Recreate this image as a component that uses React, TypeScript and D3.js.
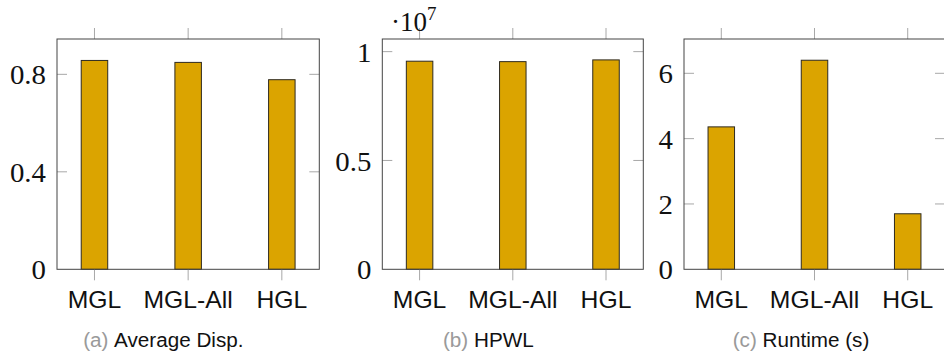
import { useEffect, useRef } from "react";
import * as d3 from "d3";

const categories = ["MGL", "MGL-All", "HGL"];
const dispValues = [0.857, 0.849, 0.778];
const hpwlValues = [9.56e6, 9.54e6, 9.62e6];
const runtimeValues = [4.36, 6.4, 1.7];

const dispTicks = [0, 0.4, 0.8];
const hpwlTicks = [0, 0.5, 1];
const runtimeTicks = [0, 2, 4, 6];

const captionTags = ["(a)", "(b)", "(c)"];
const captionTexts = ["Average Disp.", "HPWL", "Runtime (s)"];

export default function App() {
  const ref = useRef<SVGSVGElement | null>(null);

  useEffect(() => {
    const svg = d3.select(ref.current);
    svg.selectAll("*").remove();

    const top = 39,
      bottom = 269.3;
    const panels = [
      { left: 57, right: 319.3, yMax: 0.945, values: dispValues, ticks: dispTicks, scale: 1, caption: 163.3 },
      { left: 382.3, right: 643.3, yMax: 1.058, values: hpwlValues, ticks: hpwlTicks, scale: 1e7, caption: 488.3 },
      { left: 684, right: 945, yMax: 7.05, values: runtimeValues, ticks: runtimeTicks, scale: 1, caption: 801 },
    ];

    panels.forEach((p, pi) => {
      const g = svg.append("g");
      const x = d3
        .scalePoint<string>()
        .domain(categories)
        .range([p.left, p.right])
        .padding(0.4);
      const y = d3.scaleLinear().domain([0, p.yMax]).range([bottom, top]);
      const barW = 26.5;

      // bars
      g.selectAll("rect.bar")
        .data(p.values)
        .enter()
        .append("rect")
        .attr("class", "bar")
        .attr("x", (d, i) => (x(categories[i]) as number) - barW / 2)
        .attr("y", (d) => y(d / p.scale))
        .attr("width", barW)
        .attr("height", (d) => bottom - y(d / p.scale))
        .attr("fill", "#dba400")
        .attr("stroke", "#2e2a20")
        .attr("stroke-width", 1);

      // y ticks (inside, both sides)
      p.ticks.forEach((t) => {
        if (t === 0) return;
        g.append("line")
          .attr("x1", p.left)
          .attr("x2", p.left + 10)
          .attr("y1", y(t))
          .attr("y2", y(t))
          .attr("stroke", "#a8a8a8");
        g.append("line")
          .attr("x1", p.right - 10)
          .attr("x2", p.right)
          .attr("y1", y(t))
          .attr("y2", y(t))
          .attr("stroke", "#a8a8a8");
      });

      // x ticks (outside, top and bottom)
      categories.forEach((c) => {
        const cx = x(c) as number;
        g.append("line")
          .attr("x1", cx)
          .attr("x2", cx)
          .attr("y1", top - 11)
          .attr("y2", top)
          .attr("stroke", "#a8a8a8");
        g.append("line")
          .attr("x1", cx)
          .attr("x2", cx)
          .attr("y1", bottom)
          .attr("y2", bottom + 11)
          .attr("stroke", "#a8a8a8");
      });

      // frame
      g.append("rect")
        .attr("x", p.left)
        .attr("y", top)
        .attr("width", p.right - p.left)
        .attr("height", bottom - top)
        .attr("fill", "none")
        .attr("stroke", "#444")
        .attr("stroke-width", 1);

      // y tick labels
      p.ticks.forEach((t) => {
        g.append("text")
          .attr("transform", `translate(${p.left - 11},${y(t)}) scale(1.03,1)`)
          .attr("dy", "0.36em")
          .attr("text-anchor", "end")
          .attr("font-family", "'Liberation Serif', 'DejaVu Serif', serif")
          .attr("font-size", 28)
          .attr("fill", "#111")
          .text(String(t));
      });

      // x tick labels
      categories.forEach((c) => {
        g.append("text")
          .attr("transform", `translate(${x(c)},308.3) scale(1.03,1)`)
          .attr("text-anchor", "middle")
          .attr("font-family", "'Liberation Sans', Arial, sans-serif")
          .attr("font-size", 24)
          .attr("fill", "#111")
          .text(c);
      });

      // caption
      const cap = g
        .append("text")
        .attr("transform", `translate(${p.caption},346.5) scale(1.06,1)`)
        .attr("text-anchor", "middle")
        .attr("font-family", "'Liberation Sans', Arial, sans-serif")
        .attr("font-size", 19.5);
      cap.append("tspan").attr("fill", "#9a9a9a").text(captionTags[pi] + " ");
      cap.append("tspan").attr("fill", "#111").text(captionTexts[pi]);
    });

    // scale note for HPWL
    const note = svg
      .append("text")
      .attr("x", 391)
      .attr("y", 31)
      .attr("font-family", "'Liberation Serif', 'DejaVu Serif', serif")
      .attr("font-size", 27)
      .attr("fill", "#111");
    note.append("tspan").text("·10");
    note.append("tspan").attr("font-size", 19).attr("dy", -11).text("7");
  }, []);

  return (
    <svg
      ref={ref}
      width={944}
      height={355}
      style={{ position: "absolute", left: 0, top: 0, background: "#fff" }}
    />
  );
}
